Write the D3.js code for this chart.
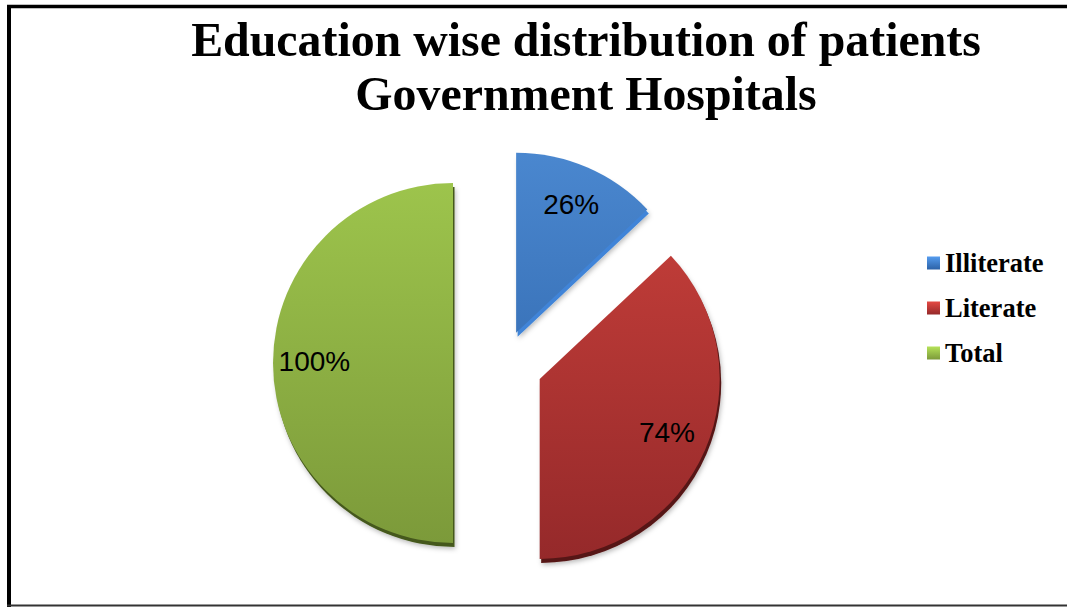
<!DOCTYPE html>
<html>
<head>
<meta charset="utf-8">
<script src="https://cdn.jsdelivr.net/npm/d3@7"></script>
<style>
  html, body { margin: 0; padding: 0; background: #fff; }
  svg { display: block; }
</style>
</head>
<body>
<svg id="chart" width="1067" height="607"></svg>
<script>
// Data
const categories = ["Illiterate", "Literate", "Total"];
const values = [26, 74, 100];
const valueLabels = ["26%", "74%", "100%"];
const titleLines = ["Education wise distribution of patients", "Government Hospitals"];

// Styling
const faceTop = ["#4a87cf", "#c63f3a", "#9dc44c"];
const faceBottom = ["#2c62a7", "#95292a", "#7c9a3a"];
const edgeColor = ["#3f84d8", "#561514", "#45591d"];
const explode = [33, 40, 50];

const W = 1067, H = 607;
const svg = d3.select("#chart");
const defs = svg.append("defs");

// frame lines
svg.append("rect").attr("x", 0).attr("y", 0).attr("width", W).attr("height", H).attr("fill", "#fff");
svg.append("line").attr("x1", 7).attr("x2", W).attr("y1", 6.5).attr("y2", 6.5)
  .attr("stroke", "#000").attr("stroke-width", 3.5);
svg.append("line").attr("x1", 9).attr("x2", 9).attr("y1", 5).attr("y2", H)
  .attr("stroke", "#000").attr("stroke-width", 4);
svg.append("line").attr("x1", 7).attr("x2", W).attr("y1", 605.5).attr("y2", 605.5)
  .attr("stroke", "#333").attr("stroke-width", 2);

// title (slightly condensed serif)
const title = svg.append("text")
  .attr("transform", "translate(586,0) scale(0.977,1)")
  .attr("text-anchor", "middle")
  .attr("font-family", "'Liberation Serif', 'Times New Roman', serif")
  .attr("font-weight", "bold").attr("font-size", 49).attr("fill", "#000");
title.selectAll("tspan").data(titleLines).join("tspan")
  .attr("x", 0).attr("y", (d, i) => 56 + i * 54).text(d => d);

// pie
const cx = 503, cy = 363, r = 180;
const pie = d3.pie().sort(null).value(d => d)(values);
const arc = d3.arc().innerRadius(0).outerRadius(r);
const labelArc = d3.arc().innerRadius(r * 0.77).outerRadius(r * 0.77);

const shadow = defs.append("filter").attr("id", "soft").attr("x", "-20%").attr("y", "-20%")
  .attr("width", "140%").attr("height", "140%");
shadow.append("feDropShadow").attr("dx", 1).attr("dy", 2).attr("stdDeviation", 2.5)
  .attr("flood-color", "#000").attr("flood-opacity", 0.28);

pie.forEach((p, i) => {
  const g = defs.append("linearGradient").attr("id", "face" + i)
    .attr("gradientUnits", "userSpaceOnUse")
    .attr("x1", 0).attr("y1", -r).attr("x2", 0).attr("y2", r);
  g.append("stop").attr("offset", "0%").attr("stop-color", faceTop[i]);
  g.append("stop").attr("offset", "100%").attr("stop-color", faceBottom[i]);
  const lg = defs.append("linearGradient").attr("id", "leg" + i)
    .attr("x1", 0).attr("y1", 0).attr("x2", 0).attr("y2", 1);
  lg.append("stop").attr("offset", "0%").attr("stop-color", d3.color(faceTop[i]).brighter(0.4));
  lg.append("stop").attr("offset", "100%").attr("stop-color", faceBottom[i]);
});

const slices = svg.append("g").attr("transform", `translate(${cx},${cy})`)
  .selectAll("g").data(pie).join("g")
  .attr("transform", (d, i) => {
    const a = (d.startAngle + d.endAngle) / 2;
    return `translate(${Math.sin(a) * explode[i]},${-Math.cos(a) * explode[i]})`;
  });

// bevel edge below the face
slices.append("path").attr("d", arc)
  .attr("transform", "translate(1.5,4)")
  .attr("fill", (d, i) => edgeColor[i])
  .attr("filter", "url(#soft)");
slices.append("path").attr("d", arc)
  .attr("fill", (d, i) => `url(#face${i})`);

slices.append("text")
  .attr("transform", d => `translate(${labelArc.centroid(d)})`)
  .attr("text-anchor", "middle").attr("dy", "0.3em")
  .attr("font-family", "'Liberation Sans', Arial, sans-serif")
  .attr("font-size", 28).attr("fill", "#000")
  .text((d, i) => valueLabels[i]);

// legend
const legend = svg.append("g").attr("transform", "translate(927,263)");
const items = legend.selectAll("g").data(categories).join("g")
  .attr("transform", (d, i) => `translate(0,${i * 45})`);
items.append("rect").attr("x", 0).attr("y", -6.5).attr("width", 13).attr("height", 13)
  .attr("fill", (d, i) => `url(#leg${i})`);
items.append("text").attr("x", 18).attr("dy", "0.35em")
  .attr("font-family", "'Liberation Serif', 'Times New Roman', serif")
  .attr("font-weight", "bold").attr("font-size", 26.5).attr("fill", "#000")
  .text(d => d);
</script>
</body>
</html>
